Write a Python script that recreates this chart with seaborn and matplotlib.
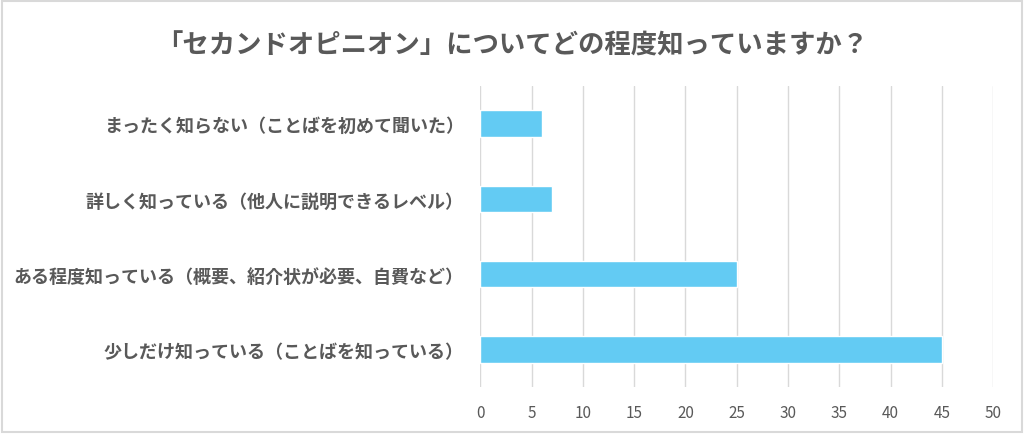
import matplotlib
matplotlib.use("Agg")
import matplotlib.pyplot as plt
import seaborn as sns
import pandas as pd

# chart data
categories = [
    "まったく知らない（ことばを初めて聞いた）",
    "詳しく知っている（他人に説明できるレベル）",
    "ある程度知っている（概要、紹介状が必要、自費など）",
    "少しだけ知っている（ことばを知っている）",
]
counts = [6, 7, 25, 45]
x_ticks = list(range(0, 55, 5))
title = "「セカンドオピニオン」についてどの程度知っていますか？"

df = pd.DataFrame({"category": categories, "count": counts})

sns.set_theme(style="white")
plt.rcParams["font.family"] = ["Noto Sans CJK JP", "DejaVu Sans"]

text_color = "#595959"
bar_color = "#63CBF3"
grid_color = "#D9D9D9"

fig = plt.figure(figsize=(10.24, 4.35), dpi=100)
ax = fig.add_axes([0.469, 0.108, 0.501, 0.692])

sns.barplot(data=df, x="count", y="category", color=bar_color, width=0.35,
            saturation=1, ax=ax, zorder=3)

ax.set_xlim(0, 50)
ax.set_xticks(x_ticks)
ax.set_xticklabels([str(t) for t in x_ticks], color=text_color, fontsize=11)
ax.tick_params(axis="x", length=0, pad=12)
ax.tick_params(axis="y", length=0, pad=12)
for lbl in ax.get_yticklabels():
    lbl.set_color(text_color)
    lbl.set_fontsize(13)
    lbl.set_fontweight("bold")
ax.xaxis.grid(True, color=grid_color, linewidth=1, zorder=0)
ax.set_axisbelow(True)
for s in ax.spines.values():
    s.set_visible(False)
ax.set_xlabel("")
ax.set_ylabel("")

fig.text(0.5, 0.893, title, ha="center", va="center", fontsize=19,
         fontweight="bold", color=text_color)

# light outer frame
fig.patches.append(plt.Rectangle((0.002, 0.004), 0.996, 0.992, transform=fig.transFigure,
                                 fill=False, edgecolor="#D9D9D9", linewidth=1.5))

fig.savefig("out.png", dpi=100)
